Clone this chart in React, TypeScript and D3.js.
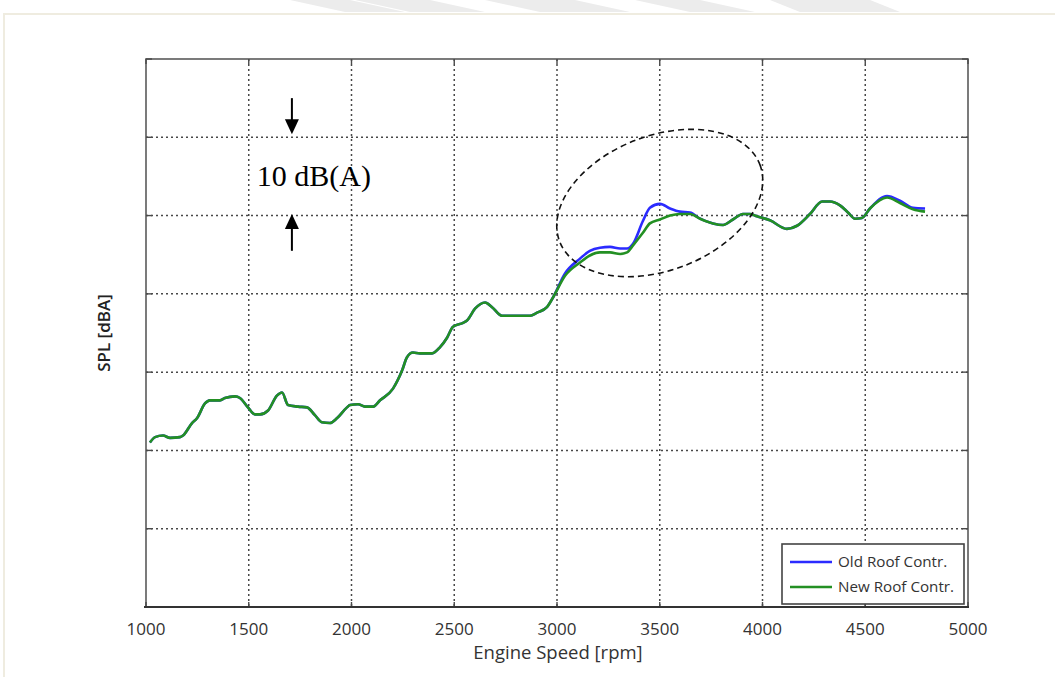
import { useEffect, useRef } from "react"
import * as d3 from "d3"

// engine speed samples (rpm)
const RPM = [
    1019, 1044, 1083, 1117, 1165, 1180, 1224, 1248, 1287, 1311, 1360, 1384, 1433, 1457, 1496,
    1530, 1555, 1594, 1637, 1662, 1691, 1740, 1783, 1822, 1856, 1895, 1929, 1978, 1993, 2032,
    2066, 2105, 2139, 2202, 2246, 2270, 2299, 2333, 2392, 2431, 2465, 2494, 2543, 2562, 2601,
    2650, 2684, 2732, 2786, 2869, 2903, 2951, 2980, 3039, 3112, 3160, 3209, 3258, 3307, 3341,
    3370, 3418, 3452, 3501, 3550, 3598, 3647, 3696, 3759, 3808, 3856, 3905, 3939, 3973, 4036,
    4119, 4168, 4231, 4290, 4328, 4377, 4416, 4450, 4484, 4523, 4606, 4669, 4732, 4791
]
// SPL, new roof controller (dBA)
const NEW_ROOF = [
    61.0, 61.7, 61.9, 61.6, 61.7, 61.9, 63.5, 64.1, 66.0, 66.4, 66.4, 66.7, 66.9, 66.7, 65.5,
    64.6, 64.6, 65.1, 67.0, 67.4, 65.8, 65.6, 65.5, 64.5, 63.6, 63.5, 64.1, 65.5, 65.8, 65.9,
    65.6, 65.6, 66.4, 67.9, 70.2, 71.9, 72.5, 72.4, 72.4, 73.2, 74.4, 75.8, 76.3, 76.6, 78.1,
    78.9, 78.3, 77.2, 77.2, 77.2, 77.6, 78.3, 79.5, 82.3, 84.0, 84.9, 85.3, 85.3, 85.1, 85.3,
    86.2, 87.8, 89.0, 89.5, 90.0, 90.2, 90.2, 89.6, 89.0, 88.8, 89.5, 90.2, 90.2, 89.9, 89.4,
    88.3, 88.7, 90.2, 91.8, 91.8, 91.3, 90.4, 89.6, 89.7, 90.9, 92.3, 91.6, 90.8, 90.5
]
// SPL, old roof controller (dBA)
const OLD_ROOF = [
    61.0, 61.7, 61.9, 61.6, 61.7, 61.9, 63.5, 64.1, 66.0, 66.4, 66.4, 66.7, 66.9, 66.7, 65.5,
    64.6, 64.6, 65.1, 67.0, 67.4, 65.8, 65.6, 65.5, 64.5, 63.6, 63.5, 64.1, 65.5, 65.8, 65.9,
    65.6, 65.6, 66.4, 67.9, 70.2, 71.9, 72.5, 72.4, 72.4, 73.2, 74.4, 75.8, 76.3, 76.6, 78.1,
    78.9, 78.3, 77.2, 77.2, 77.2, 77.6, 78.3, 79.5, 82.6, 84.5, 85.5, 85.9, 86.0, 85.8, 85.8,
    86.4, 89.3, 91.0, 91.5, 90.9, 90.5, 90.4, 89.6, 89.0, 88.8, 89.5, 90.2, 90.2, 89.9, 89.4,
    88.3, 88.7, 90.2, 91.8, 91.8, 91.3, 90.4, 89.6, 89.7, 90.9, 92.5, 91.9, 91.0, 90.9
]
const X_TICKS = [1000, 1500, 2000, 2500, 3000, 3500, 4000, 4500, 5000]
const Y_GRID = [40, 50, 60, 70, 80, 90, 100, 110]
const SERIES = [
    { name: "Old Roof Contr.", values: OLD_ROOF, color: "#2b2bff" },
    { name: "New Roof Contr.", values: NEW_ROOF, color: "#239023" }
]

const W = 1055
const H = 677
const FONT = "'Open Sans', 'DejaVu Sans', sans-serif"

export default function App() {
    const svgRef = useRef<SVGSVGElement>(null)

    useEffect(() => {
        const svg = d3.select(svgRef.current)
        svg.selectAll("*").remove()

        const left = 146, right = 968, top = 59, bottom = 607
        const x = d3.scaleLinear().domain([1000, 5000]).range([left, right])
        const y = d3.scaleLinear().domain([40, 110]).range([bottom, top])

        // page frame + faint watermark at the top
        svg.append("rect").attr("x", 0).attr("y", 0).attr("width", W).attr("height", H).attr("fill", "white")
        const wm = [[290, 350, 345, 405], [355, 430, 410, 485], [485, 575, 540, 630], [635, 700, 690, 755], [770, 870, 800, 900]]
        wm.forEach(([a, b, c, d]) => {
            svg.append("path")
                .attr("d", `M${a},0 L${b},0 L${d},12 L${c},12 Z`)
                .attr("fill", "#ececec")
        })
        svg.append("path")
            .attr("d", `M4,${H} L4,14 L${W},14`)
            .attr("fill", "none")
            .attr("stroke", "#efece0")
            .attr("stroke-width", 2)

        // grid
        const grid = svg.append("g")
            .attr("stroke", "#484848")
            .attr("stroke-width", 1.5)
            .attr("stroke-dasharray", "2,3")
        X_TICKS.slice(1, -1).forEach(t => {
            grid.append("line").attr("x1", x(t)).attr("x2", x(t)).attr("y1", top).attr("y2", bottom)
        })
        Y_GRID.slice(1, -1).forEach(t => {
            grid.append("line").attr("x1", left).attr("x2", right).attr("y1", y(t)).attr("y2", y(t))
        })

        // frame and ticks
        svg.append("rect")
            .attr("x", left).attr("y", top).attr("width", right - left).attr("height", bottom - top)
            .attr("fill", "none").attr("stroke", "#5a5a5a").attr("stroke-width", 1.6)
        const ticks = svg.append("g").attr("stroke", "#4a4a4a").attr("stroke-width", 1.4)
        X_TICKS.forEach(t => {
            ticks.append("line").attr("x1", x(t)).attr("x2", x(t)).attr("y1", bottom).attr("y2", bottom - 5)
            ticks.append("line").attr("x1", x(t)).attr("x2", x(t)).attr("y1", top).attr("y2", top + 5)
        })
        Y_GRID.forEach(t => {
            ticks.append("line").attr("x1", left).attr("x2", left + 6).attr("y1", y(t)).attr("y2", y(t))
            ticks.append("line").attr("x1", right).attr("x2", right - 6).attr("y1", y(t)).attr("y2", y(t))
        })
        svg.append("line")
            .attr("x1", left - 2).attr("x2", right + 1).attr("y1", bottom).attr("y2", bottom)
            .attr("stroke", "#333").attr("stroke-width", 1.8)

        // tick labels and axis titles
        svg.append("g").selectAll("text")
            .data(X_TICKS)
            .join("text")
            .attr("x", d => x(d))
            .attr("y", bottom + 28)
            .attr("text-anchor", "middle")
            .attr("font-family", FONT)
            .attr("font-size", 17)
            .attr("fill", "#333")
            .text(d => d)
        svg.append("text")
            .attr("x", (left + right) / 2 + 1)
            .attr("y", bottom + 52)
            .attr("text-anchor", "middle")
            .attr("font-family", FONT)
            .attr("font-size", 18.5)
            .attr("fill", "#333")
            .text("Engine Speed [rpm]")
        svg.append("text")
            .attr("transform", `translate(110, ${(top + bottom) / 2}) rotate(-90)`)
            .attr("text-anchor", "middle")
            .attr("font-family", FONT)
            .attr("font-size", 17)
            .attr("font-weight", 600)
            .attr("fill", "#222")
            .text("SPL [dBA]")

        // curves
        const line = d3.line<number>()
            .x((d, i) => x(RPM[i]))
            .y(d => y(d))
            .curve(d3.curveMonotoneX)
        SERIES.forEach(s => {
            svg.append("path")
                .datum(s.values)
                .attr("fill", "none")
                .attr("stroke", s.color)
                .attr("stroke-width", 2.6)
                .attr("stroke-linejoin", "round")
                .attr("d", line)
        })

        // dashed ellipse marking the difference
        const cx = x(3500), cy = y(91.6)
        svg.append("ellipse")
            .attr("cx", cx).attr("cy", cy)
            .attr("rx", x(3522) - x(3000)).attr("ry", y(90) - y(98.6))
            .attr("transform", `rotate(-21, ${cx}, ${cy})`)
            .attr("fill", "none")
            .attr("stroke", "#111")
            .attr("stroke-width", 1.6)
            .attr("stroke-dasharray", "6,4")

        // 10 dB(A) annotation
        const ax = x(1710)
        const arrow = (from: number, tip: number) => {
            const y0 = y(from), y1 = y(tip)
            const dir = Math.sign(y1 - y0)
            svg.append("line")
                .attr("x1", ax).attr("x2", ax)
                .attr("y1", y0).attr("y2", y1 - dir * 12)
                .attr("stroke", "black").attr("stroke-width", 2)
            svg.append("path")
                .attr("d", `M${ax},${y1} L${ax - 7},${y1 - dir * 15} L${ax + 7},${y1 - dir * 15} Z`)
                .attr("fill", "black")
        }
        arrow(105, 100.4)
        arrow(85.5, 90.2)
        svg.append("text")
            .attr("x", x(1817))
            .attr("y", y(93.8))
            .attr("text-anchor", "middle")
            .attr("font-family", "'Liberation Serif', 'Times New Roman', serif")
            .attr("font-size", 30)
            .attr("fill", "black")
            .text("10 dB(A)")

        // legend
        const lg = svg.append("g").attr("transform", "translate(782, 544)")
        lg.append("rect")
            .attr("width", 182).attr("height", 60)
            .attr("fill", "white").attr("stroke", "#444").attr("stroke-width", 1.6)
        SERIES.forEach((s, i) => {
            const ly = 18 + i * 25
            lg.append("line")
                .attr("x1", 8).attr("x2", 50).attr("y1", ly).attr("y2", ly)
                .attr("stroke", s.color).attr("stroke-width", 2.4)
            lg.append("text")
                .attr("x", 56).attr("y", ly + 5)
                .attr("font-family", FONT)
                .attr("font-size", 15.2)
                .attr("fill", "#333")
                .text(s.name)
        })
    }, [])

    return (
        <svg ref={svgRef} width={W} height={H}
            style={{ position: "absolute", left: 0, top: 0, display: "block" }} />
    )
}
